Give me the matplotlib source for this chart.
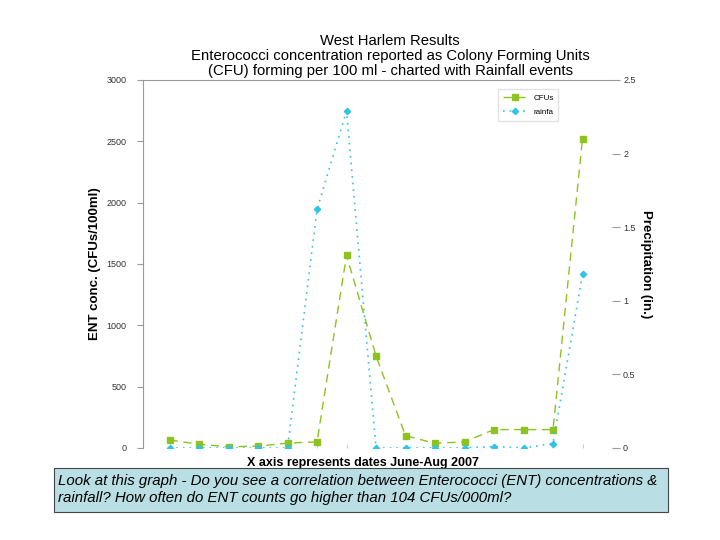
import numpy as np
import matplotlib.pyplot as plt
from matplotlib.patches import Rectangle

plt.rcParams['font.family'] = ['Liberation Sans', 'DejaVu Sans']

# sampling events June-Aug 2007 (no date labels on the chart)
n_samples = 15
cfus = [65, 30, 10, 15, 40, 50, 1570, 750, 100, 38, 50, 150, 150, 150, 2520]
rain = [0, 0, 0, 0, 0, 1.62, 2.29, 0, 0, 0, 0, 0.01, 0, 0.03, 1.18]

green = '#8dc21f'
cyan = '#33c3e6'
grey = '#9a9a9a'

fig = plt.figure(figsize=(7.2, 5.4), dpi=100)
ax = fig.add_axes([0.1986, 0.1704, 0.6514, 0.6816])
ax2 = ax.twinx()

x = np.arange(n_samples)
l1, = ax.plot(x, cfus, color=green, ls=(0, (6, 4)), lw=1.0,
              marker='s', ms=5, mec=green, label='CFUs')
l2, = ax2.plot(x, rain, color=cyan, ls=(0, (1, 3)), lw=1.2,
               marker='D', ms=3.2, mec=cyan, label='rainfa')

ax.set_xlim(-0.9, 15.0)
ax.set_ylim(0, 3000)
ax2.set_ylim(0, 2.5)
ax.set_yticks(np.arange(0, 3001, 500))
ax2.set_yticks([0, 0.5, 1, 1.5, 2, 2.5])
ax2.set_yticklabels(['0', '0.5', '1', '1.5', '2', '2.5'])
ax.set_xticks(x)
ax.set_xticklabels([])

for a in (ax, ax2):
    for s in a.spines.values():
        s.set_visible(False)
ax.spines['left'].set_visible(True)
ax.spines['left'].set_color(grey)
ax.spines['top'].set_visible(True)
ax.spines['top'].set_color(grey)
ax.tick_params(axis='y', direction='out', length=4, color=grey,
               labelsize=6.5, labelcolor='#333333', pad=8)
ax.tick_params(axis='x', direction='in', length=3, color='#cccccc')
ax2.tick_params(axis='y', direction='out', length=6, color=grey,
                labelsize=6.5, labelcolor='#333333', pad=2)

ax.set_ylabel('ENT conc. (CFUs/100ml)', fontsize=9.5, fontweight='bold', labelpad=4)
ax2.set_ylabel('Precipitation (in.)', fontsize=9.5, fontweight='bold',
               rotation=-90, labelpad=12)
ax.set_xlabel('X axis represents dates June-Aug 2007', fontsize=9,
              fontweight='bold')
ax.xaxis.set_label_coords(0.47, -0.025)

fig.text(0.542, 0.896, 'West Harlem Results\n'
         'Enterococci concentration reported as Colony Forming Units\n'
         '(CFU) forming per 100 ml - charted with Rainfall events',
         ha='center', va='center', fontsize=10.7, linespacing=1.12)

leg = ax.legend(handles=[l1, l2], loc='upper left',
                bbox_to_anchor=(0.748, 0.985), fontsize=5.8,
                frameon=True, fancybox=False, edgecolor='#dddddd',
                handlelength=3, borderpad=0.6, labelspacing=0.8)

# caption box below the chart
fig.patches.append(Rectangle((0.075, 0.052), 0.853, 0.082,
                             transform=fig.transFigure, facecolor='#b9dfe4',
                             edgecolor='#444444', lw=0.8))
fig.text(0.081, 0.093,
         'Look at this graph - Do you see a correlation between Enterococci (ENT) concentrations &\n'
         'rainfall? How often do ENT counts go higher than 104 CFUs/000ml?',
         ha='left', va='center', fontsize=10.8, style='italic', linespacing=1.3)

fig.savefig('out.png', dpi=100)
